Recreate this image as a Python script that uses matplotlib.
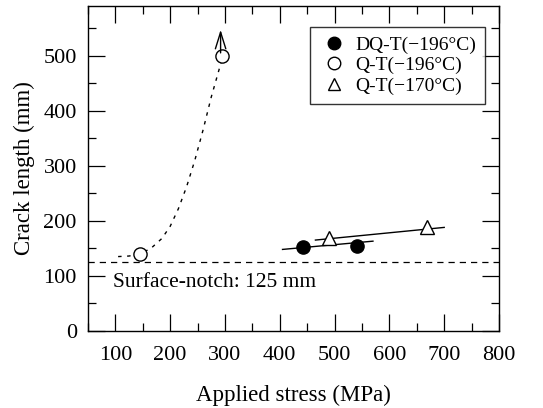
import matplotlib
matplotlib.use("Agg")
import matplotlib.pyplot as plt
from matplotlib.ticker import MultipleLocator

plt.rcParams['font.family'] = ['Liberation Serif', 'DejaVu Serif']
plt.rcParams['mathtext.fontset'] = 'stix'

# Data
dq196_x = [443, 541]
dq196_y = [152, 155]
dq196_fit_x = [405, 570]
dq196_fit_y = [148, 163]

q196_x = [145, 295]
q196_y = [140, 500]
q196_curve_x = [105, 125, 145, 165, 185, 200, 215, 230, 245, 260, 275, 295]
q196_curve_y = [135, 136, 140, 150, 168, 190, 222, 262, 310, 365, 425, 495]

q170_x = [490, 668]
q170_y = [168, 188]
q170_fit_x = [465, 700]
q170_fit_y = [165, 188]

notch_y = 125

fig = plt.figure(figsize=(5.43, 4.08), dpi=100)
ax = fig.add_axes([0.162, 0.189, 0.757, 0.796])

ax.plot(q196_curve_x, q196_curve_y, color='black', lw=1.0, ls=(0, (2.5, 4)))
ax.plot(dq196_fit_x, dq196_fit_y, color='black', lw=1.0)
ax.plot(q170_fit_x, q170_fit_y, color='black', lw=1.0)
ax.axhline(notch_y, color='black', lw=0.9, ls=(0, (5, 4)))

ax.plot(dq196_x, dq196_y, 'o', ms=9.5, mfc='black', mec='black', ls='none', label='DQ-T(\u2212196\u00b0C)')
ax.plot(q196_x, q196_y, 'o', ms=9.5, mfc='white', mec='black', mew=1.0, ls='none', label='Q-T(\u2212196\u00b0C)')
ax.plot(q170_x, q170_y, '^', ms=10, mfc='white', mec='black', mew=1.0, ls='none', label='Q-T(\u2212170\u00b0C)')

ax.annotate('', xy=(292, 552), xytext=(292, 500),
            arrowprops=dict(arrowstyle='->,head_width=0.25,head_length=0.8', color='black', lw=1.0, mutation_scale=15))

ax.text(96, 87, 'Surface-notch: 125 mm', fontsize=15.5, va='center', ha='left')

ax.set_xlim(50, 800)
ax.set_ylim(0, 590)
ax.xaxis.set_major_locator(MultipleLocator(100))
ax.xaxis.set_minor_locator(MultipleLocator(50))
ax.yaxis.set_major_locator(MultipleLocator(100))
ax.yaxis.set_minor_locator(MultipleLocator(50))
ax.set_xticks(range(100, 801, 100))
ax.tick_params(which='both', direction='in', top=True, right=True, labelsize=16)
ax.tick_params(axis='x', pad=11)
ax.tick_params(axis='y', pad=8)
ax.tick_params(which='major', length=12, width=0.9)
ax.tick_params(which='minor', length=6, width=0.9)
for s in ax.spines.values():
    s.set_linewidth(1.0)

ax.set_xlabel('Applied stress (MPa)', fontsize=16.5, labelpad=14)
ax.set_ylabel('Crack length (mm)', fontsize=16.5, labelpad=6)

leg = ax.legend(loc='upper right', bbox_to_anchor=(0.966, 0.935), borderaxespad=0,
                fontsize=14, frameon=True, fancybox=False, edgecolor='black',
                handletextpad=0.3, borderpad=0.45, labelspacing=0.15, handlelength=1.6)
leg.get_frame().set_linewidth(1.0)
for h in leg.legend_handles:
    h.set_markersize(9)

fig.savefig('out.png', dpi=100)
